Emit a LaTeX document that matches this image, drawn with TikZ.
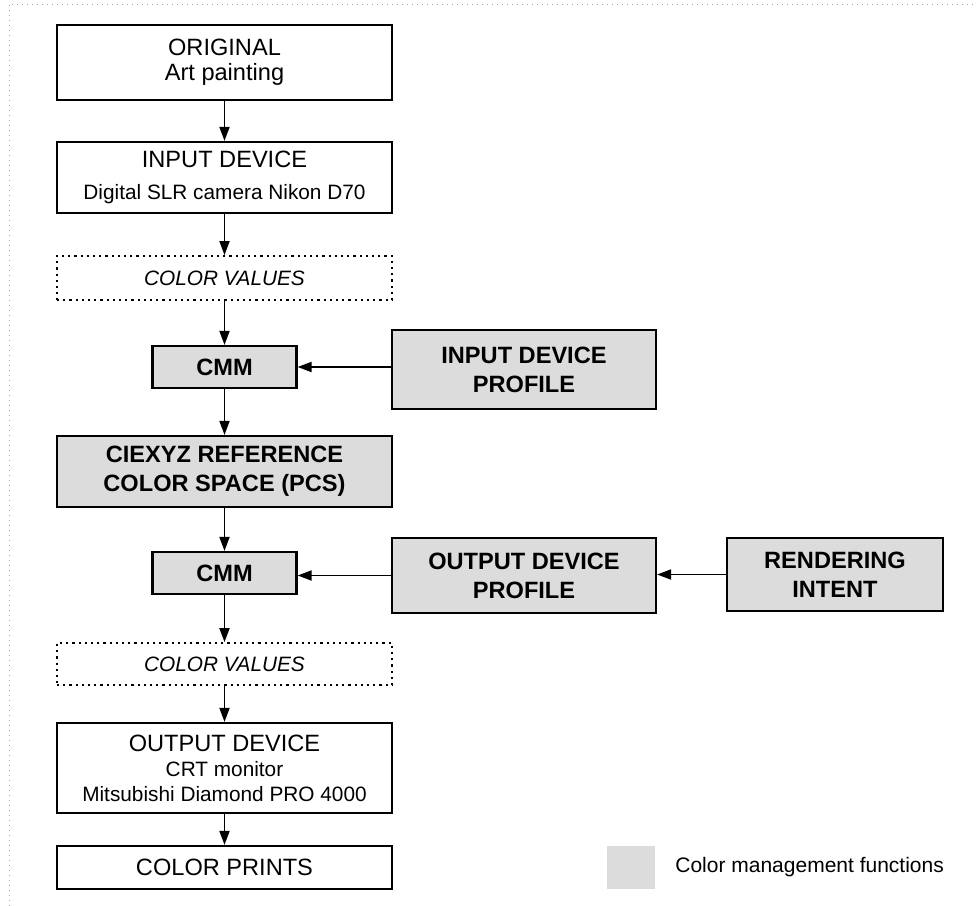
\documentclass[tikz,border=0pt]{standalone}
\usepackage{fontspec}
\setmainfont{Liberation Sans}
\usetikzlibrary{arrows.meta}
\definecolor{cmmgray}{RGB}{220,220,220}
\newcommand{\titlesz}{\fontsize{11.8pt}{12.5pt}\selectfont}
\newcommand{\subsz}{\fontsize{10.4pt}{12.5pt}\selectfont}
\newcommand{\boldsz}{\fontsize{11.8pt}{14.5pt}\selectfont\bfseries}

\begin{document}
\begin{tikzpicture}[x=0.5pt,y=-0.5pt,
    box/.style={draw=black,line width=1.1pt,inner sep=0pt,align=center,minimum width=167.5pt},
    cmf/.style={box,fill=cmmgray,font=\boldsz},
    vals/.style={box,dotted,line width=0.9pt,font=\subsz\itshape},
    link/.style={line width=0.9pt,-{Triangle[length=7pt,width=5pt]}}]

    \useasboundingbox (0,0) rectangle (976,906);
    \draw [gray!70,dotted,line width=0.5pt] (9,906) -- (9,4) -- (976,4);

    % main chain
    \node (orig)   [box,minimum height=37.5pt,font=\titlesz] at (224.5,62.5) {ORIGINAL\\Art painting};
    \node (indev)  [box,minimum height=35.5pt,font=\titlesz] at (224.5,177.5) {INPUT DEVICE\\[3.5pt]\subsz Digital SLR camera Nikon D70};
    \node (vals1)  [vals,minimum height=22pt] at (224.5,278) {COLOR VALUES};
    \node (cmm1)   [cmf,minimum width=72pt,minimum height=21pt] at (224.5,367) {CMM};
    \node (pcs)    [cmf,minimum height=35.5pt] at (224.5,471.5) {CIEXYZ REFERENCE\\COLOR SPACE (PCS)};
    \node (cmm2)   [cmf,minimum width=72pt,minimum height=21pt] at (224.5,573) {CMM};
    \node (vals2)  [vals,minimum height=21pt] at (224.5,664) {COLOR VALUES};
    \node (outdev) [box,minimum height=45pt,font=\titlesz] at (224.5,768) {OUTPUT DEVICE\\\subsz CRT monitor\\\subsz Mitsubishi Diamond PRO 4000};
    \node (prints) [box,minimum height=21.5pt,font=\titlesz] at (224.5,867.5) {COLOR PRINTS};

    % profiles
    \node (inprof)  [cmf,minimum width=132pt,minimum height=39.5pt] at (524,369.5) {INPUT DEVICE\\PROFILE};
    \node (outprof) [cmf,minimum width=132pt,minimum height=37.5pt] at (524,575.5) {OUTPUT DEVICE\\PROFILE};
    \node (intent)  [cmf,minimum width=108pt,minimum height=36.5pt] at (835,574.5) {RENDERING\\INTENT};

    \draw [link] (orig) -- (indev);
    \draw [link] (indev) -- (vals1);
    \draw [link] (vals1) -- (cmm1);
    \draw [link] (cmm1) -- (pcs);
    \draw [link] (pcs) -- (cmm2);
    \draw [link] (cmm2) -- (vals2);
    \draw [link] (vals2) -- (outdev);
    \draw [link] (outdev) -- (prints);

    \draw [link] (cmm1.east -| inprof.west) -- (cmm1.east);
    \draw [link] (outprof.west) -- (outprof.west -| cmm2.east);
    \draw [link] (intent.west) -- (intent.west -| outprof.east);

    % legend
    \node (legbox)  [fill=cmmgray,inner sep=0pt,minimum width=24pt,minimum height=21.5pt] at (631,867.5) {};
    \node (legtext) [anchor=west,inner sep=0pt,font=\fontsize{10.5pt}{12pt}\selectfont] at (675,867) {Color management functions};

\end{tikzpicture}
\end{document}
